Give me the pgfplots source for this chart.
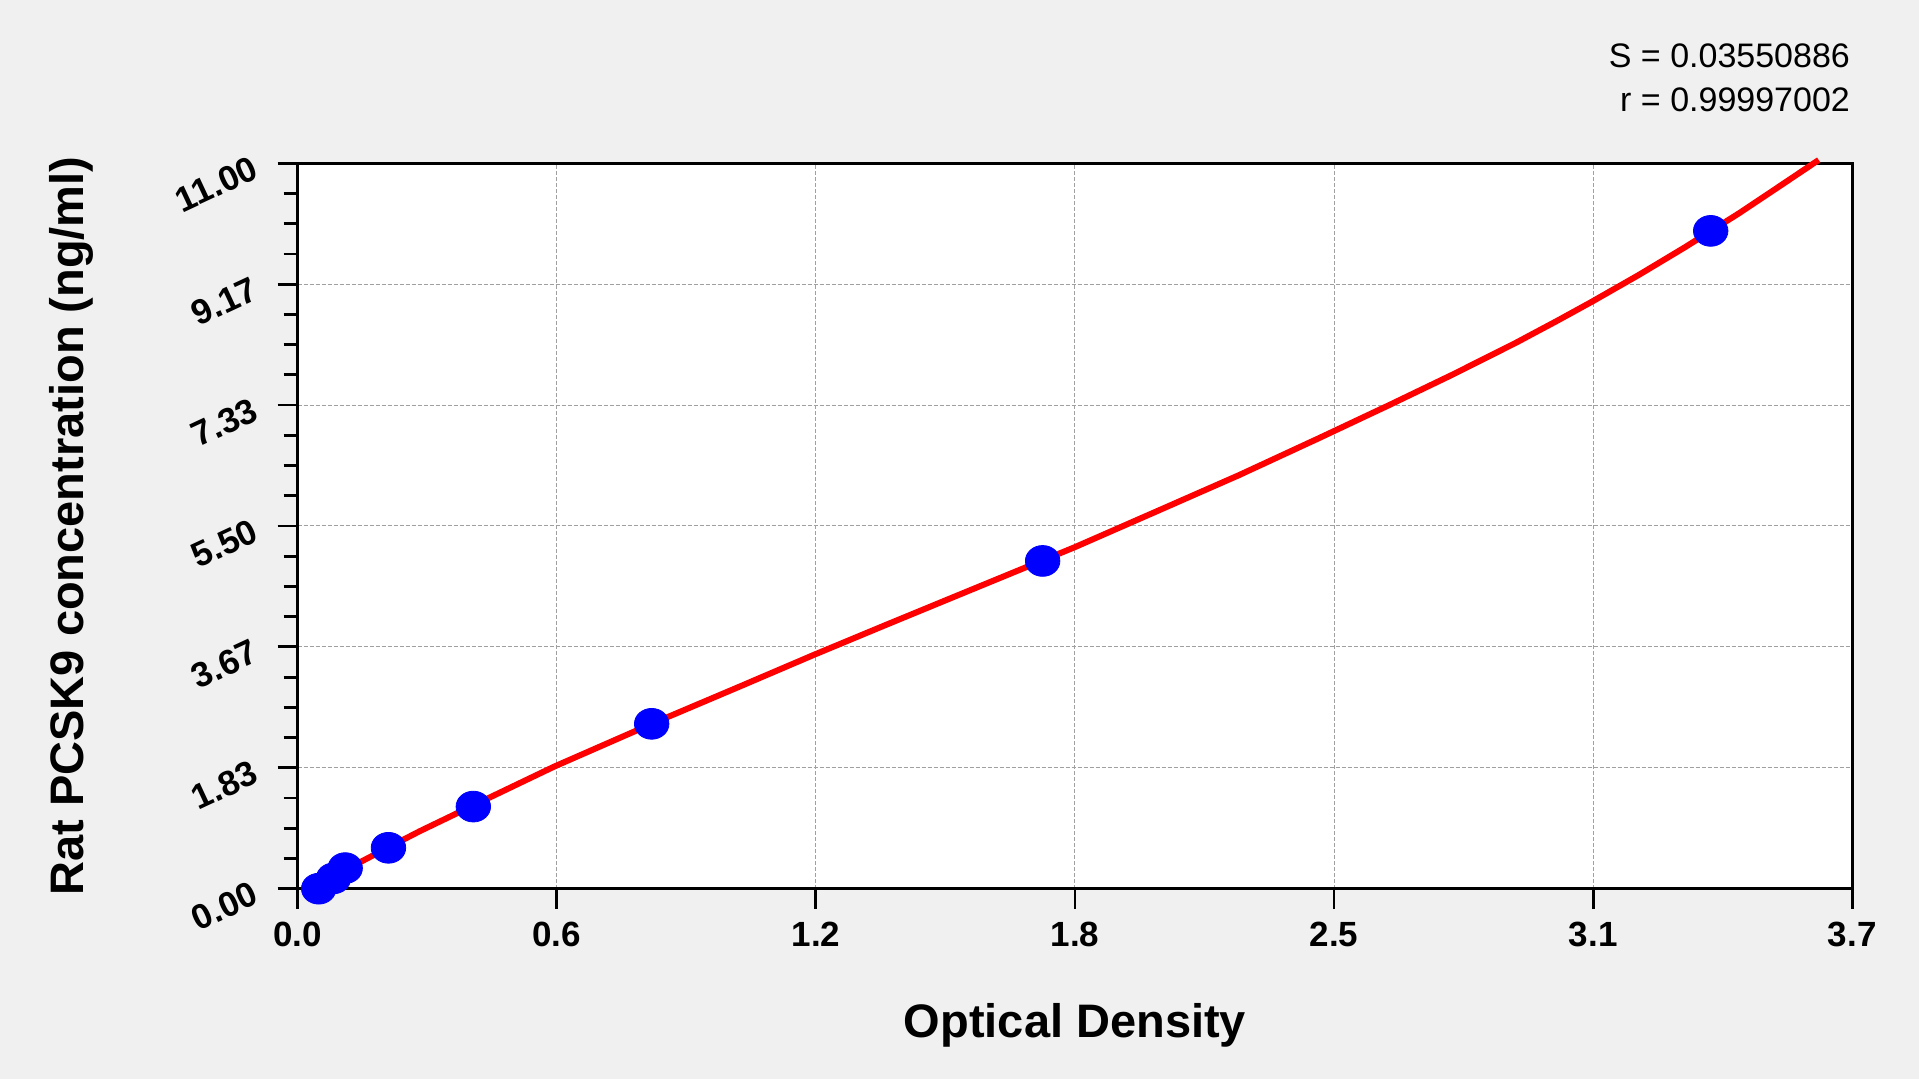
\documentclass[border=0pt]{standalone}
\usepackage{pgfplots}
\pgfplotsset{compat=1.18}
\usepackage{fontspec}
\setmainfont{Liberation Sans}
\definecolor{bg}{HTML}{F0F0F0}
\definecolor{gridgray}{HTML}{A0A0A0}

\begin{document}
\begin{tikzpicture}
\fill[bg] (-148.85pt,-95.15pt) rectangle (810.65pt,444.35pt);
\begin{axis}[
  at={(0,0)}, anchor=south west,
  scale only axis, width=777.3pt, height=362.7pt,
  xmin=0, xmax=3.7, ymin=0, ymax=11,
  clip=false,
  axis background/.style={fill=white},
  axis line style={line width=1.4pt},
  xtick={0,0.616667,1.233333,1.85,2.466667,3.083333,3.7},
  xticklabels={0.0,0.6,1.2,1.8,2.5,3.1,3.7},
  ytick={0,1.833333,3.666667,5.5,7.333333,9.166667,11},
  yticklabels={0.00,1.83,3.67,5.50,7.33,9.17,11.00},
  minor x tick num=3, minor y tick num=3,
  tick align=outside, xtick pos=bottom, ytick pos=left,
  major tick length=10pt, minor tick length=7pt,
  every tick/.style={black, line width=1.4pt},
  grid=major,
  major grid style={gridgray, line width=0.5pt, dash pattern=on 2pt off 1pt},
  /pgf/number format/assume math mode=true,
  ticklabel style={font=\fontsize{17.5}{17.5}\selectfont\bfseries},
  xticklabel style={yshift=-3pt},
  yticklabel style={xshift=-8pt, rotate=25, anchor=east},
  xlabel={Optical Density},
  ylabel={Rat PCSK9 concentration (ng/ml)},
  label style={font=\fontsize{23.5}{23.5}\selectfont\bfseries},
  xlabel style={at={(axis description cs:0.5,-0.2054)}, anchor=base},
  ylabel style={at={(axis description cs:-0.1379,0.5)}, anchor=base, rotate=0},
]
% standards
\addplot[only marks, mark=*, mark size=7.7pt,
  mark options={xscale=1.12, draw=blue, fill=blue}] coordinates {
(0.05,0) (0.085,0.156) (0.113,0.312) (0.216,0.62) (0.418,1.245)
(0.8425,2.5) (1.773,4.97) (3.363,9.975)};
% fitted curve
\addplot[red, line width=3pt, no marks] coordinates {
(0.028,0.0) (0.10,0.24) (0.16,0.44) (0.22,0.64) (0.29,0.87)
(0.42,1.27) (0.61,1.85) (0.85,2.52) (1.05,3.06) (1.23,3.55)
(1.40,4.00) (1.56,4.42) (1.77,4.97) (1.85,5.18) (2.04,5.71)
(2.24,6.27) (2.43,6.83) (2.60,7.34) (2.75,7.80) (2.90,8.28)
(3.00,8.62) (3.08,8.90) (3.19,9.30) (3.30,9.72) (3.36,9.96)
(3.43,10.24) (3.51,10.58) (3.62,11.05)};
\node[anchor=base east, font=\fontsize{17}{17}\selectfont]
  at (rel axis cs:1.003,1.1324) {S = 0.03550886};
\node[anchor=base east, font=\fontsize{17}{17}\selectfont]
  at (rel axis cs:1.003,1.0711) {r = 0.99997002};
\end{axis}
\pgfresetboundingbox
\path (-148.85pt,-95.15pt) rectangle (810.65pt,444.35pt);
\end{tikzpicture}
\end{document}
